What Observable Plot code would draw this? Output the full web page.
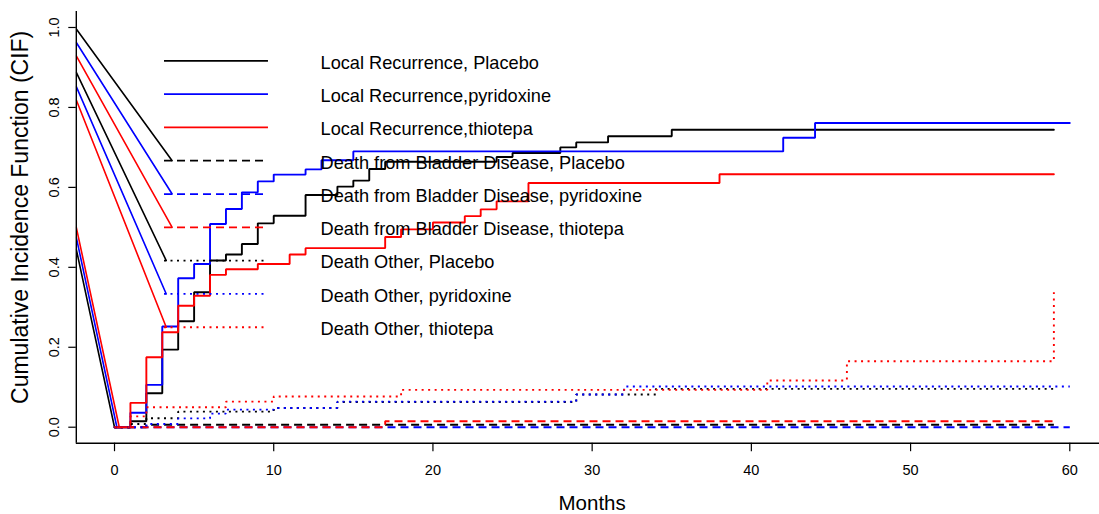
<!DOCTYPE html>
<html><head><meta charset="utf-8">
<script src="https://cdn.jsdelivr.net/npm/d3@7"></script>
<script src="https://cdn.jsdelivr.net/npm/@observablehq/plot@0.6"></script>
<style>html,body{margin:0;padding:0;background:#fff;overflow:hidden}#chart svg{display:block}</style>
</head><body><div id="chart"></div><script>
// ---- data ----
const xTicks = [0, 10, 20, 30, 40, 50, 60];
const yTicks = [0, 0.2, 0.4, 0.6, 0.8, 1.0];
const xTitle = "Months";
const yTitle = "Cumulative Incidence Function (CIF)";
const seriesLabels = [
  "Local Recurrence, Placebo",
  "Local Recurrence,pyridoxine",
  "Local Recurrence,thiotepa",
  "Death from Bladder Disease, Placebo",
  "Death from Bladder Disease, pyridoxine",
  "Death from Bladder Disease, thiotepa",
  "Death Other, Placebo",
  "Death Other, pyridoxine",
  "Death Other, thiotepa"
];
// step times and cumulative incidence estimates
const lrPlaceboTime = [0, 1, 2, 3, 4, 5, 6, 7, 8, 9, 10, 12, 14, 15, 16, 17, 24, 25, 28, 29, 31, 35];
const lrPlaceboCIF  = [0, 0.015, 0.085, 0.194, 0.265, 0.3375, 0.417, 0.432, 0.4585, 0.51, 0.529, 0.581, 0.602, 0.617, 0.646, 0.664, 0.676, 0.686, 0.70, 0.7125, 0.728, 0.744];
const lrPyridoxineTime = [0, 1, 2, 3, 4, 5, 6, 7, 8, 9, 10, 12, 13, 15, 42, 44];
const lrPyridoxineCIF  = [0, 0.036, 0.106, 0.252, 0.3725, 0.4085, 0.5085, 0.546, 0.5875, 0.615, 0.632, 0.645, 0.668, 0.69, 0.724, 0.761];
const lrThiotepaTime = [0, 1, 2, 3, 4, 5, 6, 7, 9, 11, 12, 17, 18, 20, 22, 23, 24, 26, 38];
const lrThiotepaCIF  = [0, 0.061, 0.175, 0.2375, 0.304, 0.329, 0.381, 0.395, 0.4085, 0.432, 0.448, 0.476, 0.495, 0.512, 0.528, 0.545, 0.565, 0.611, 0.633];
const dbPlaceboTime = [0, 2];
const dbPlaceboCIF  = [0, 0.006];
const dbPyridoxineTime = [0];
const dbPyridoxineCIF  = [0];
const dbThiotepaTime = [0, 17];
const dbThiotepaCIF  = [0, 0.015];
const doPlaceboTime = [0, 1, 2, 4, 10, 14, 29, 34];
const doPlaceboCIF  = [0, 0.008, 0.0225, 0.039, 0.048, 0.063, 0.082, 0.096];
const doPyridoxineTime = [0, 2, 4, 6, 7, 10, 14, 29, 32];
const doPyridoxineCIF  = [0, 0.008, 0.022, 0.034, 0.044, 0.048, 0.064, 0.082, 0.1017];
const doThiotepaTime = [0, 1, 2, 7, 10, 18, 41, 46, 59];
const doThiotepaCIF  = [0, 0.027, 0.05, 0.064, 0.077, 0.0935, 0.117, 0.165, 0.3375];
const seriesEndTime = [59, 60, 59, 59, 60, 59, 59, 60, 59];
// straight lead-in lines entering from the left edge
const leadInLeftY = [0.445, 0.475, 0.50, 0.996, 0.9625, 0.929, 0.8875, 0.852, 0.8185];
const leadInEndX  = [0, 0.15, 0.3, 3.62, 3.62, 3.62, 3.25, 3.25, 3.25];

// ---- styles / layout ----
const colors = ["#000", "#00f", "#f00", "#000", "#00f", "#f00", "#000", "#00f", "#f00"];
const dashes = [null, null, null, "8,5", "8,5", "8,5", "2,4.5", "2,4.5", "2,4.5"];
const times = [lrPlaceboTime, lrPyridoxineTime, lrThiotepaTime, dbPlaceboTime, dbPyridoxineTime, dbThiotepaTime, doPlaceboTime, doPyridoxineTime, doThiotepaTime];
const cifs  = [lrPlaceboCIF, lrPyridoxineCIF, lrThiotepaCIF, dbPlaceboCIF, dbPyridoxineCIF, dbThiotepaCIF, doPlaceboCIF, doPyridoxineCIF, doThiotepaCIF];
const xLeft = -2.4, xRight = 62.4, yLow = -0.04, yHigh = 1.04;
const legendTop = 0.9167, legendStep = 1 / 12, legendX0 = 3.14, legendX1 = 9.67, legendTextX = 12.94;
const rowY = i => legendTop - i * legendStep;
const FONT = "'Liberation Sans', Arial, Helvetica, sans-serif";

const marks = [];
for (let k = 0; k < 9; k++) {
  const lead = [{x: xLeft, y: leadInLeftY[k]}, {x: leadInEndX[k], y: k < 3 ? 0 : rowY(k)}];
  marks.push(Plot.line(lead, {x: "x", y: "y", stroke: colors[k], strokeWidth: 1.6, clip: true}));
  const pts = times[k].map((t, j) => ({x: t, y: cifs[k][j]}));
  pts.push({x: seriesEndTime[k], y: cifs[k][cifs[k].length - 1]});
  marks.push(Plot.line(pts, {
    x: "x", y: "y", curve: "step-after", stroke: colors[k], strokeWidth: 1.9,
    strokeDasharray: dashes[k] || undefined, strokeLinecap: dashes[k] ? "butt" : "round", strokeLinejoin: "miter"
  }));
}
// legend samples and labels
for (let k = 0; k < 9; k++) {
  marks.push(Plot.ruleY([rowY(k)], {x1: legendX0, x2: legendX1, stroke: colors[k], strokeWidth: 1.8,
    strokeDasharray: dashes[k] || undefined, strokeLinecap: "butt"}));
}
marks.push(Plot.text(seriesLabels, {x: () => legendTextX, y: (d, i) => rowY(i), text: d => d,
  textAnchor: "start", fontSize: 18.2, dy: 2, fill: "#000"}));

// axes box (bty = "l")
marks.push(Plot.ruleX([xLeft], {y1: yLow, y2: yHigh, stroke: "#000", strokeWidth: 1.4}));
marks.push(Plot.ruleY([yLow], {x1: xLeft, x2: xRight, stroke: "#000", strokeWidth: 1.4}));
marks.push(Plot.axisX({ticks: xTicks, label: null, tickSize: 8.5, tickPadding: 13, fontSize: 14.5, color: "#000", tickFormat: d => String(d), strokeWidth: 1.2}));
marks.push(Plot.axisY({ticks: yTicks, label: null, tickSize: 7.5, tickFormat: () => "", color: "#000", strokeWidth: 1.2}));
marks.push(Plot.text(yTicks, {y: d => d, frameAnchor: "left", dx: -17, rotate: -90, textAnchor: "middle",
  lineAnchor: "bottom", text: d => d.toFixed(1), fontSize: 14.5, fill: "#000"}));
marks.push(Plot.text([yTitle], {frameAnchor: "left", dx: -48.8, dy: -10, rotate: -90, textAnchor: "middle",
  lineAnchor: "bottom", fontSize: 23, fill: "#000"}));
marks.push(Plot.text([xTitle], {x: () => 30, frameAnchor: "bottom", dy: 66.3, lineAnchor: "bottom",
  fontSize: 20.5, fill: "#000"}));

const chart = Plot.plot({
  width: 1099, height: 514,
  marginLeft: 75.8, marginRight: 0, marginTop: 11, marginBottom: 71.3,
  style: {fontFamily: FONT, background: "#fff", color: "#000", overflow: "hidden"},
  x: {domain: [xLeft, xRight], range: [75.8, 1107.5], label: null},
  y: {domain: [yLow, yHigh], label: null},
  marks
});
document.getElementById("chart").appendChild(chart);
</script></body></html>
